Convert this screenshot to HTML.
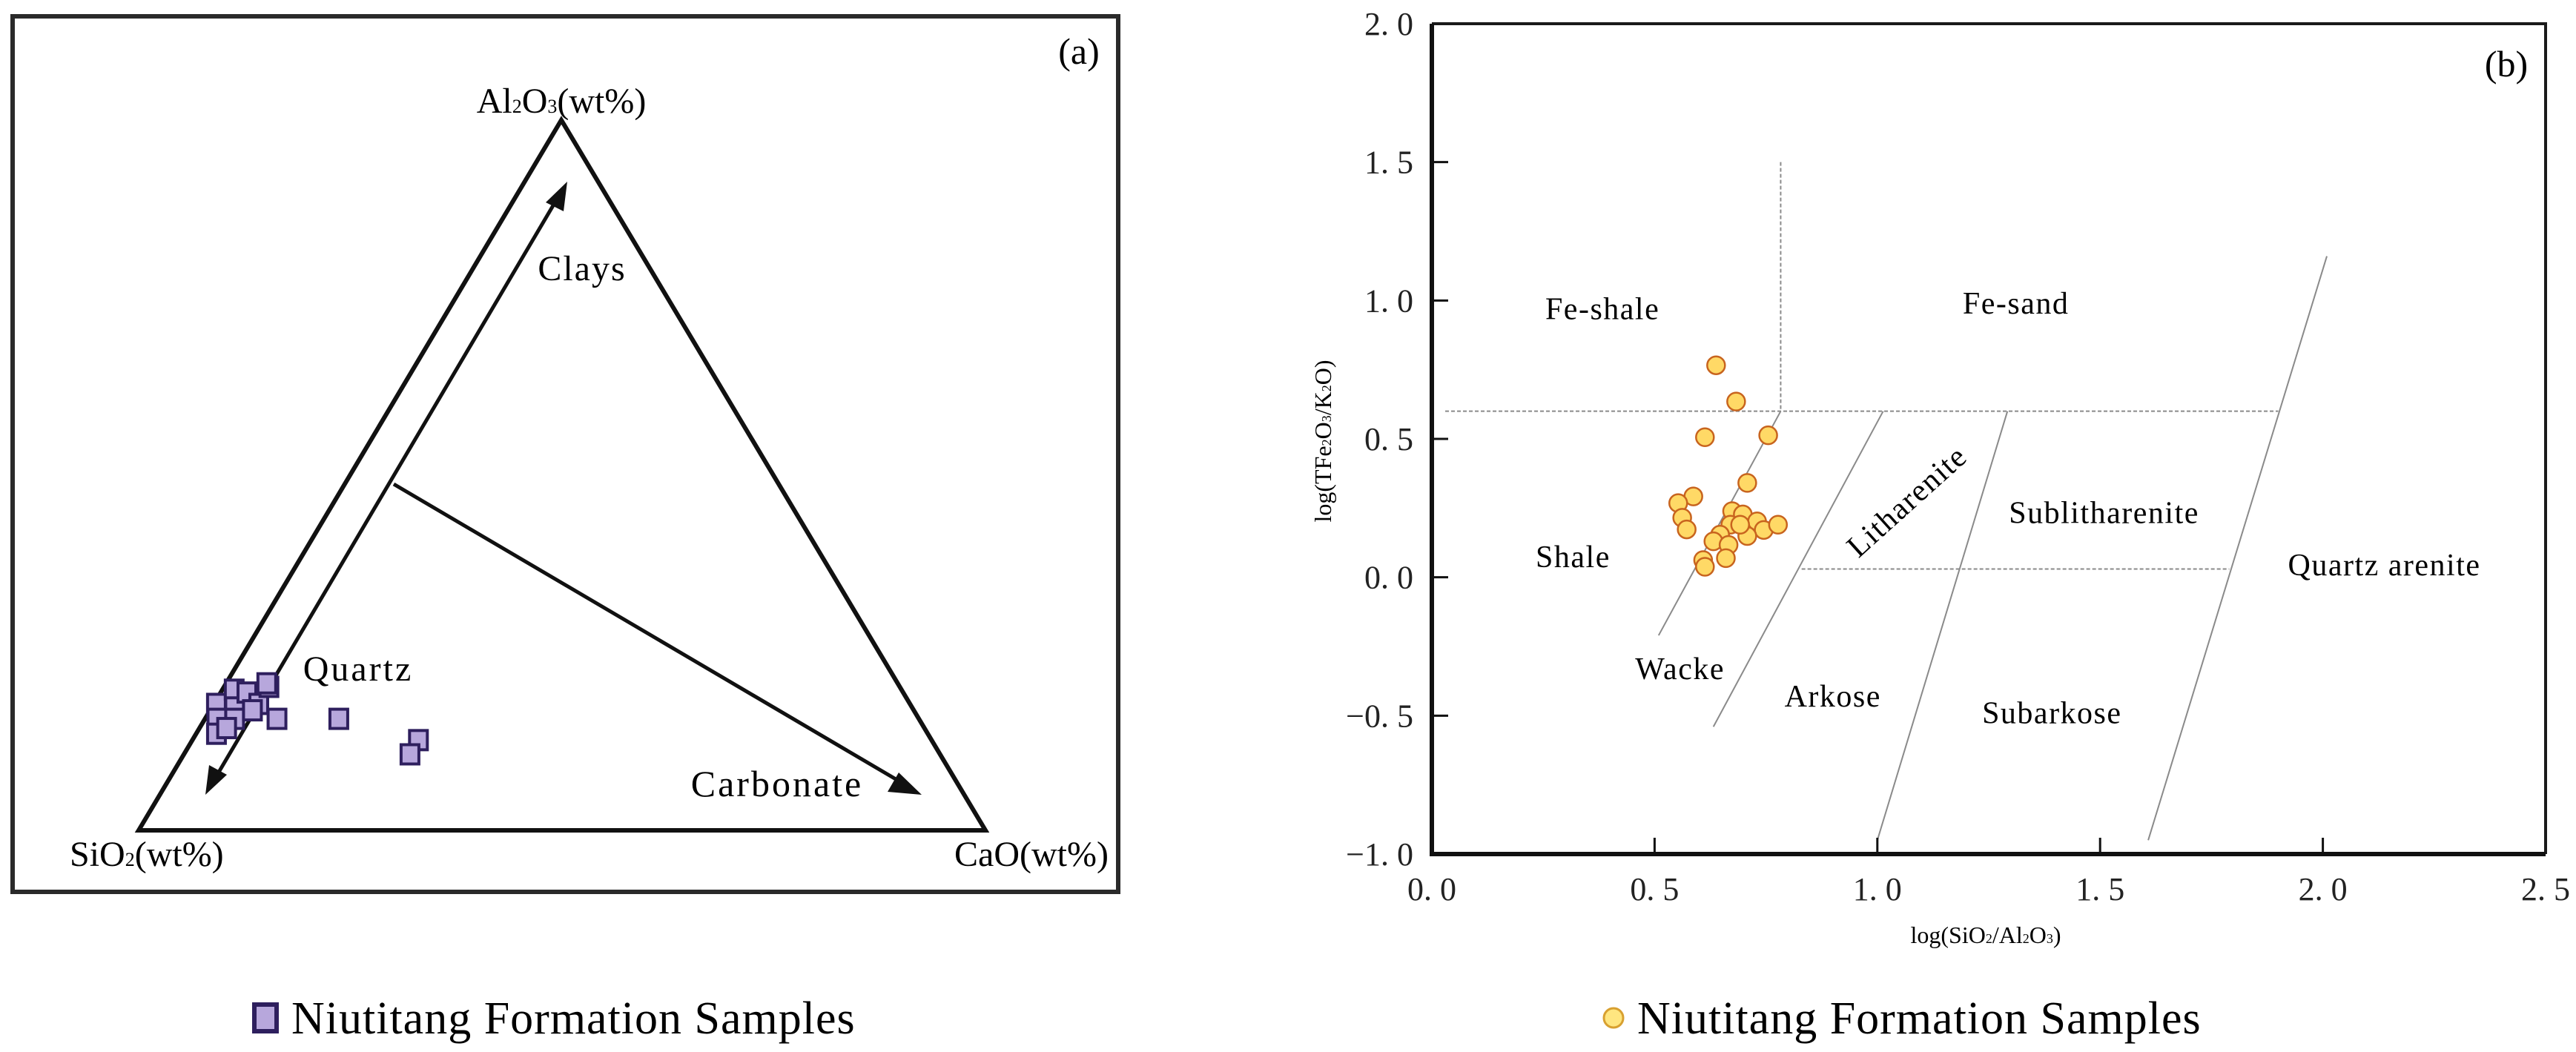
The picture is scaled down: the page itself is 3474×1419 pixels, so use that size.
<!DOCTYPE html>
<html><head><meta charset="utf-8"><style>
html,body{margin:0;padding:0;background:#fff;}
svg{display:block;}
svg text{font-family:"Liberation Serif","Times New Roman",serif;}
</style></head><body>
<svg id="root" width="3474" height="1419" viewBox="0 0 3474 1419" xmlns="http://www.w3.org/2000/svg" font-family="Liberation Serif, serif">
<defs>
<clipPath id="clipA"><rect x="17" y="22" width="1491" height="1181"/></clipPath>
</defs>
<!-- Panel A -->
<g id="panelA">
<rect x="17" y="22" width="1491" height="1181" fill="#fff" stroke="#2a2a2a" stroke-width="6"/>
<text x="1455" y="86" font-size="50" text-anchor="middle">(a)</text>
<polygon points="187,1120 757,162 1329,1120" fill="none" stroke="#111" stroke-width="6" stroke-linejoin="miter"/>
<text x="757" y="152" font-size="48" text-anchor="middle">Al<tspan font-size="26">2</tspan>O<tspan font-size="26">3</tspan>(wt%)</text>
<text x="94" y="1168" font-size="48">SiO<tspan font-size="26">2</tspan>(wt%)</text>
<g clip-path="url(#clipA)"><text x="1287" y="1168" font-size="48">CaO(wt%)</text></g>
<line x1="290" y1="1050" x2="752" y2="267" stroke="#111" stroke-width="5"/>
<polygon points="765,245 736,273 760,285" fill="#111"/>
<polygon points="277,1072 282,1032 306,1045" fill="#111"/>
<line x1="531" y1="653" x2="1220" y2="1058" stroke="#111" stroke-width="5"/>
<polygon points="1243,1072 1197,1068 1212,1042" fill="#111"/>
<text x="785" y="378" font-size="48" text-anchor="middle" letter-spacing="2">Clays</text>
<text x="483" y="918" font-size="48" text-anchor="middle" letter-spacing="3">Quartz</text>
<text x="1048" y="1074" font-size="50" text-anchor="middle" letter-spacing="3">Carbonate</text>
<g id="pointsA"></g>
<rect x="343" y="1355" width="30" height="36" fill="#b7a7dc" stroke="#2e1f5e" stroke-width="6"/>
<text x="393" y="1394" font-size="62" letter-spacing="1">Niutitang Formation Samples</text>
</g>
<!-- Panel B -->
<g id="panelB">
<g id="linesB"></g>
<g id="labelsB"></g>
<g id="pointsB"></g>
<g id="axesB"></g>
<text x="3380" y="103" font-size="50" text-anchor="middle">(b)</text>
<text transform="translate(1795,595) rotate(-90)" font-size="32" text-anchor="middle">log(TFe<tspan font-size="18">2</tspan>O<tspan font-size="18">3</tspan>/K<tspan font-size="18">2</tspan>O)</text>
<text x="2678" y="1272" font-size="32" text-anchor="middle">log(SiO<tspan font-size="18">2</tspan>/Al<tspan font-size="18">2</tspan>O<tspan font-size="18">3</tspan>)</text>
<circle cx="2176" cy="1373" r="13" fill="#ffe680" stroke="#d8a030" stroke-width="3"/>
<text x="2208" y="1394" font-size="62" letter-spacing="1">Niutitang Formation Samples</text>
</g>
</svg>
<script>
// Panel A ternary data (fractions)
const ternAl = [0.178,0.157,0.136,0.198,0.173,0.157,0.194,0.178,0.202,0.207,0.157,0.144,0.169,0.157,0.127,0.107];
const ternCa = [0.003,0.014,0.024,0.014,0.027,0.035,0.031,0.053,0.053,0.048,0.085,0.032,0.050,0.158,0.267,0.267];
// Panel B data
const xVals = [0.638,0.683,0.613,0.755,0.708,0.587,0.553,0.562,0.572,0.674,0.698,0.670,0.730,0.745,0.777,0.708,0.647,0.632,0.666,0.660,0.609,0.613,0.692];
const yVals = [0.766,0.635,0.506,0.513,0.341,0.292,0.268,0.215,0.173,0.239,0.227,0.190,0.202,0.171,0.190,0.149,0.154,0.130,0.117,0.069,0.062,0.038,0.190];
const xTicks = [0.0,0.5,1.0,1.5,2.0,2.5];
const yTicks = [2.0,1.5,1.0,0.5,0.0,-0.5,-1.0];
const xTickLabels = ["0. 0","0. 5","1. 0","1. 5","2. 0","2. 5"];
const yTickLabels = ["2. 0","1. 5","1. 0","0. 5","0. 0","\u22120. 5","\u22121. 0"];
const boundaryNames = ["fe-shale-fe-sand-divider","fe-divider-horizontal","sand-shale-divider-zero","shale-wacke-boundary","wacke-arkose-boundary","litharenite-sublitharenite-boundary","quartz-arenite-boundary"];
const boundaryX1 = [0.783,0.03,0.83,0.509,0.632,1.0,1.608];
const boundaryY1 = [1.5,0.6,0.03,-0.21,-0.54,-0.95,-0.95];
const boundaryX2 = [0.783,1.9,1.79,0.783,1.013,1.292,2.009];
const boundaryY2 = [0.6,0.6,0.03,0.6,0.6,0.6,1.16];
const regionNames = ["Fe-shale","Fe-sand","Shale","Wacke","Arkose","Subarkose","Sublitharenite","Quartz arenite","Litharenite"];
const regionX = [0.383,1.311,0.317,0.557,0.9,1.392,1.509,2.138,1.066];
const regionY = [0.97,0.99,0.074,-0.33,-0.43,-0.49,0.234,0.044,0.275];

const NS="http://www.w3.org/2000/svg";
function mk(tag,attrs,parent){const e=document.createElementNS(NS,tag);for(const k in attrs)e.setAttribute(k,attrs[k]);parent.appendChild(e);return e;}

// Ternary
const L=[187,1120],T=[757,162],R=[1329,1120];
function tern(a,c){const s=1-a-c;return [s*L[0]+a*T[0]+c*R[0], s*L[1]+a*T[1]+c*R[1]];}
const gA=document.getElementById('pointsA');
for(let i=0;i<ternAl.length;i++){
  const p=tern(ternAl[i],ternCa[i]);
  const r=mk('rect',{x:p[0]-12,y:p[1]-13,width:24,height:26,fill:'#b7a7dc',stroke:'#2e1f5e','stroke-width':4},gA);
  
  
}

// Scatter axes
const X0=1931,X1=3433,Y0=1152,Y1=32;
function sx(v){return X0+(v-0)/(2.5-0)*(X1-X0);}
function sy(v){return Y0-(v-(-1))/(2-(-1))*(Y0-Y1);}
const gL=document.getElementById('linesB');
for(let i=0;i<boundaryNames.length;i++){
  const l=mk('line',{x1:sx(boundaryX1[i]),y1:sy(boundaryY1[i]),x2:sx(boundaryX2[i]),y2:sy(boundaryY2[i]),stroke:'#8a8a8a','stroke-width':2,'stroke-dasharray':(i<3?'5,3':'none')},gL);
  
  
}
const gR=document.getElementById('labelsB');
for(let i=0;i<regionNames.length;i++){
  const x=sx(regionX[i]),y=sy(regionY[i]);
  const t=mk('text',{x:x,y:y+14,'font-size':42,'text-anchor':'middle','letter-spacing':1.5,'font-family':'Liberation Serif, serif'},gR);
  if(regionNames[i]==='Litharenite') t.setAttribute('transform','rotate(-42 '+x+' '+y+')');
  t.textContent=regionNames[i];
  
  
}
const gP=document.getElementById('pointsB');
for(let i=0;i<xVals.length;i++){
  const c=mk('circle',{cx:sx(xVals[i]),cy:sy(yVals[i]),r:12,fill:'#ffd966',stroke:'#c8641e','stroke-width':2.5},gP);
  
  
}
const gX=document.getElementById('axesB');
const fr=mk('path',{d:'M'+X0+' '+Y1+' H'+X1+' V'+Y0,fill:'none',stroke:'#1a1a1a','stroke-width':4},gX);


const ax=mk('path',{d:'M'+X0+' '+Y1+' V'+Y0+' H'+X1,fill:'none',stroke:'#111','stroke-width':6},gX);


for(let i=0;i<xTicks.length;i++){
  const x=sx(xTicks[i]);
  if(i>0&&i<xTicks.length-1){const tk=mk('line',{x1:x,y1:Y0,x2:x,y2:Y0-22,stroke:'#111','stroke-width':3},gX);
  
  }
  const t=mk('text',{x:x,y:Y0+62,'font-size':44,'text-anchor':'middle',fill:'#222','font-family':'Liberation Serif, serif'},gX);
  t.textContent=xTickLabels[i];
  
  
}
for(let i=0;i<yTicks.length;i++){
  const y=sy(yTicks[i]);
  if(i>0&&i<yTicks.length-1){const tk=mk('line',{x1:X0,y1:y,x2:X0+22,y2:y,stroke:'#111','stroke-width':3},gX);
  
  }
  const t=mk('text',{x:1906,y:y+15,'font-size':44,'text-anchor':'end',fill:'#222','font-family':'Liberation Serif, serif'},gX);
  t.textContent=yTickLabels[i];
  
  
}
</script>
</body></html>
